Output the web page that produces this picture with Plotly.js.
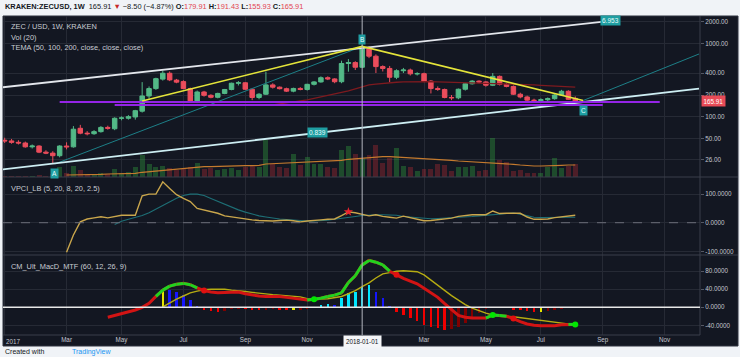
<!DOCTYPE html>
<html><head><meta charset="utf-8">
<script src="https://cdn.plot.ly/plotly-3.0.1.min.js"></script>
<style>html,body{margin:0;padding:0;background:#f0f3f7;}#chart{width:740px;height:357px;}</style>
</head><body><div id="chart"></div>
<script>
// ---------- DATA (weekly candles, KRAKEN ZEC/USD) ----------
const firstWeek = '2017-01-02';
const openP = [48,47,45,44,39,40,33,32,29.5,40,
 39,70,60,59,63,72,69,96,96,100,
 120,194,245,330,397,320,305,245,166,220,
 198,186,210,238,290,294,240,185,205,275,
 256,244,226,246,238,280,302,345,332,304,
 540,556,480,860,680,490,462,350,430,440,
 390,392,310,245,238,185,183,240,285,310,
 302,272,360,280,262,205,188,170,168,172,
 178,200,225,179.91];
const highP = [52,50,48,46,42,41,35,34,41,45,
 75,78,64,66,75,76,99,102,106,125,
 300,262,345,430,420,332,318,252,230,228,
 205,215,242,295,310,300,245,212,417,290,
 262,252,252,256,285,310,360,360,340,590,
 620,580,965,930,720,510,500,450,470,460,
 410,405,320,262,245,200,245,290,320,318,
 310,400,370,290,270,215,196,178,180,185,
 205,235,232,191.43];
const lowP = [44,43,42,38,37,32,31,23,28,36,
 38,58,56,57,61,67,66,90,92,92,
 115,178,235,315,310,290,240,160,155,190,
 180,180,205,232,270,235,170,175,200,245,
 238,220,218,232,230,270,295,320,290,290,
 417,440,470,640,400,420,300,330,400,370,
 370,300,210,228,180,170,175,230,278,290,
 260,265,270,255,200,180,160,158,160,165,
 172,195,172,155.93];
const closeP = [47,45,44,39,40,33,32,29.5,40,39,
 68,60,59,63,72,70,96,97,101,122,
 194,245,335,397,322,300,245,166,220,198,
 186,210,238,290,294,240,185,205,275,256,
 244,226,246,238,280,302,345,332,304,540,
 556,480,860,680,490,462,350,430,440,390,
 392,310,245,238,185,183,240,285,310,302,
 272,360,280,262,205,188,170,168,172,178,
 200,225,174.41,165.91];
const volume = [3,3,3,4,3,5,4,8,30,12,
 32,20,10,8,12,10,25,12,15,30,
 65,38,30,32,28,22,25,30,42,25,
 28,20,25,28,22,30,35,30,110,40,
 30,28,68,35,60,40,40,30,28,80,
 92,70,55,66,96,41,56,86,33,29,
 18,23,23,39,36,18,29,29,33,19,
 21,116,51,46,19,21,13,13,13,31,
 56,26,33,39];
const volumeMAStart = 9;
const volumeMA = [6,6,7,7,8,8,9,9,10,10,11,
 14,16,18,20,22,24,26,28,30,31,
 31,32,32,33,33,34,34,35,39,40,
 40,41,42,43,44,45,46,46,48,50,
 53,55,56,57,59,61,61,60,58,56,
 55,54,53,52,51,50,48,47,46,45,
 43,42,41,40,38,36,34,33,33,33,
 34,35,36,36];
const temaStart = 39;
const tema50 = [146,150,155,160,166,172,180,188,197,206,216,
 228,242,258,275,282,289,294,299,303,305,
 305,305,304,302,300,299,298,297,296,295,
 293,291,289,287,284,281,278,275,271,268,
 265,262,259,256];
const vpciStart = 9;
const vpci = [-103,-43,3,13,17,21,17,21,26,26,26,
 94,100,100,143,120,98,85,74,50,45,
 40,33,24,20,16,12,10,8,7,6,
 8,9,7,3,6,9,10,12,13,25,
 38,35,30,24,28,22,19,16,23,18,
 12,7,8,10,12,16,22,26,28,28,
 28,41,32,33,34,33,20,12,12,13,
 18,21,23,26];
const vpciSignalStart = 16;
const vpciSignal = [-6,5,12,18,
 25,35,48,60,75,86,95,100,100,95,
 85,75,63,55,45,37,30,24,20,16,
 13,11,9,7,6,6,7,9,12,16,
 19,22,25,27,28,28,28,26,22,20,
 17,15,14,15,16,18,19,20,22,24,
 26,29,31,33,34,30,24,19,18,18,
 19,19,19,19];
const vpciMarkWeeks = [50];
const macdStart = 15;
const macd = [-22,-18,-13,-9,-6,
 0,9,24,38,47,51,53,50,43,37,
 34,32,33,34,34,30,27,25,24,24,
 24,22,20,18,16,18,20,24,27,32,
 55,70,94,104,100,94,80,72,64,58,
 52,42,32,22,8,-6,-18,-22,-24,-24,
 -24,-17,-18,-20,-25,-32,-37,-40,-41,-41,
 -41,-39,-38,-38];
const macdSignalStart = 23;
const macdSignal = [1,10,18,25,32,36,39,
 40,40,40,38,37,35,33,31,30,28,
 27,26,25,23,19,18,18,19,21,24,
 30,37,46,54,65,74,77,80,81,80,
 79,72,60,48,36,26,16,6,-2,-8,
 -13,-17,-19,-20,-21,-23,-25,-27,-29,-31,
 -33,-35,-37,-39];
const macdHistStart = 23;
const macdHist = [40,38,35,28,16,2,-7,
 -9,-11,-8,-4,-3,-4,-6,-7,-5,-4,
 -5,-6,-6,-5,-3,0,6,8,5,20,
 31,33,45,50,35,21,2,-10,-17,-24,
 -30,-39,-43,-47,-50,-49,-43,-34,-21,-12,
 -3,0,1,0,-5,-7,-9,-10,-10,-9,
 -6,-4,-1,0];

// drawing tools (dates / prices)
const upperChannelDates = ['2016-12-31','2018-09-11'];
const upperChannelPrices = [255, 2065];
const lowerChannelDates = ['2016-12-31','2018-12-10'];
const lowerChannelPrices = [19.1, 245];
const abLineDates = ['2017-02-22','2018-01-01'];
const abLinePrices = [22.7, 925];
const cRayDates = ['2018-08-14','2018-12-10'];
const cRayPrices = [168, 729];
const yellowDates = ['2017-05-22','2018-01-01','2018-08-14'];
const yellowPrices = [165.6, 925, 168];
const purpleUpperDates = ['2017-02-27','2018-10-31'];
const purpleUpperPrice = 160;
const purpleLowerDates = ['2017-04-24','2018-09-03'];
const purpleLowerPrice = 146;
const pointLabels = ['A','B','C'];
const pointDates = ['2017-02-22','2018-01-01','2018-08-14'];
const pointPrices = [22.7, 925, 168];
const fibLabels = ['0.839','6.953'];
const fibDates = ['2017-11-17','2018-09-11'];
const fibPrices = [60.8, 2065];
const crosshairDate = '2018-01-01';

// axis ticks
const yearTickLabel = '2017';
const tickDates = ['2017-01-02','2017-03-06','2017-05-01','2017-07-03','2017-09-04','2017-11-06','2018-03-05','2018-05-07','2018-07-02','2018-09-03','2018-11-05'];
const tickLabels = ['','Mar','May','Jul','Sep','Nov','Mar','May','Jul','Sep','Nov'];
const priceTicks = [26,50,100,200,400,1000,2000];
const vpciTicks = [-100,0,100];
const macdTicks = [-40,0,40,80];

// ---------- BUILD ----------
const DAY = 86400000;
const t0 = Date.parse(firstWeek + 'T00:00:00Z');
const weekDates = openP.map((_, i) => new Date(t0 + i * 7 * DAY).toISOString().slice(0, 10));
const n = weekDates.length;
const up = closeP.map((c, i) => c >= openP[i]);

const green = '#53b987', red = '#eb4d5c';
const gridColor = '#262a35';
const traces = [];

// volume (base axis y)
traces.push({type:'bar', x: weekDates, y: volume, xaxis:'x', yaxis:'y', width: 5*DAY,
  marker:{color: up.map(u => u ? 'rgba(50,169,63,0.36)' : 'rgba(176,43,51,0.38)'), line:{width:0}}, hoverinfo:'skip'});
traces.push({type:'scatter', mode:'lines', x: weekDates.slice(volumeMAStart), y: volumeMA, xaxis:'x', yaxis:'y',
  line:{color:'#c47a2e', width:1.1}, hoverinfo:'skip'});

// price overlay axis y2
traces.push({type:'scatter', mode:'lines', x: weekDates.slice(temaStart), y: tema50, xaxis:'x', yaxis:'y2',
  line:{color:'#7e1a1f', width:1.3}, hoverinfo:'skip'});
traces.push({type:'candlestick', x: weekDates, open: openP, high: highP, low: lowP, close: closeP, xaxis:'x', yaxis:'y2',
  increasing:{line:{color:green, width:1}, fillcolor:green}, decreasing:{line:{color:red, width:1}, fillcolor:red},
  whiskerwidth:0, hoverinfo:'skip'});
const line = (x, y, color, width, dash) => ({type:'scatter', mode:'lines', x, y, xaxis:'x', yaxis:'y2',
  line:{color, width, dash: dash || 'solid'}, hoverinfo:'skip'});
traces.push(line(abLineDates, abLinePrices, '#1d7f87', 1));
traces.push(line(cRayDates, cRayPrices, '#1d7f87', 1));
traces.push(line(upperChannelDates, upperChannelPrices, '#e3e6ec', 1.8));
traces.push(line(lowerChannelDates, lowerChannelPrices, '#cdeef3', 1.8));
traces.push(line(purpleUpperDates, [purpleUpperPrice, purpleUpperPrice], '#9424e6', 2));
traces.push(line(purpleLowerDates, [purpleLowerPrice, purpleLowerPrice], '#9424e6', 2));
traces.push(line(yellowDates, yellowPrices, '#e4e43a', 1.6));

// VPCI (y3)
traces.push({type:'scatter', mode:'lines', x: weekDates.slice(vpciSignalStart), y: vpciSignal, xaxis:'x', yaxis:'y3',
  line:{color:'#1e6f76', width:1.1}, hoverinfo:'skip'});
traces.push({type:'scatter', mode:'lines', x: weekDates.slice(vpciStart), y: vpci, xaxis:'x', yaxis:'y3',
  line:{color:'#c9a64c', width:1.4}, hoverinfo:'skip'});
traces.push({type:'scatter', mode:'markers', x: vpciMarkWeeks.map(w => weekDates[w]), y: vpciMarkWeeks.map(w => vpci[w - vpciStart]),
  xaxis:'x', yaxis:'y3', marker:{symbol:'star', size:7, color:'#e8232e'}, hoverinfo:'skip'});

// MACD (y4)
const histX = weekDates.slice(macdHistStart);
const histColors = macdHist.map((h, i) => {
  const p = i > 0 ? macdHist[i-1] : null;
  if (p === null) return '#e6e600';
  if (h > 0 && h > p) return '#00e5ff';
  if (h > 0 && h < p) return '#1515ff';
  if (h <= 0 && h < p) return '#f00000';
  if (h <= 0 && h > p) return '#800000';
  return '#e6e600';
});
traces.push({type:'bar', x: histX, y: macdHist, xaxis:'x', yaxis:'y4', width: 2.6*DAY,
  marker:{color: histColors, line:{width:0}}, hoverinfo:'skip'});
traces.push({type:'scatter', mode:'lines', x: weekDates.slice(macdSignalStart), y: macdSignal, xaxis:'x', yaxis:'y4',
  line:{color:'#b6ac12', width:1.4}, hoverinfo:'skip'});
const macdAt = w => (w >= macdStart && w - macdStart < macd.length) ? macd[w - macdStart] : null;
const sigAt = w => (w >= macdSignalStart && w - macdSignalStart < macdSignal.length) ? macdSignal[w - macdSignalStart] : null;
traces.push({type:'scatter', mode:'lines', x: weekDates.slice(macdStart), y: macd, xaxis:'x', yaxis:'y4',
  line:{color:'#d21414', width:3}, hoverinfo:'skip'});
const gx = [], gy = [], dotX = [], dotY = [], dotC = [];
for (let w = macdStart + 1; w < n; w++) {
  const m = macdAt(w), s = sigAt(w);
  if (m === null) continue;
  const above = s !== null && m >= s;
  if (above) { gx.push(weekDates[w-1], weekDates[w], null); gy.push(macdAt(w-1), m, null); }
  const ps = sigAt(w-1), pm = macdAt(w-1);
  if (s !== null && ps !== null && pm !== null) {
    const prevAbove = pm >= ps;
    if (prevAbove !== above) { dotX.push(weekDates[w]); dotY.push(m); dotC.push(above ? '#00e600' : '#e01010'); }
  }
}
traces.push({type:'scatter', mode:'lines', x: gx, y: gy, xaxis:'x', yaxis:'y4', connectgaps:false,
  line:{color:'#1fd41f', width:3}, hoverinfo:'skip'});
traces.push({type:'scatter', mode:'markers', x: dotX, y: dotY, xaxis:'x', yaxis:'y4',
  marker:{size:6, color: dotC}, hoverinfo:'skip'});

// ---------- LAYOUT ----------
const W = 740, H = 357, ML = 3, MR = 40, MT = 16, MB = 22;
const pw = W - ML - MR, ph = H - MT - MB;
const px = x => (x - ML) / pw;
const py = y => (H - MB - y) / ph;
const priceDom = [py(177), 1], vpciDom = [py(255), py(177)], macdDom = [0, py(255)];
const xRange = ['2016-12-31 07:00', '2018-12-11'];
const labelFont = {family:'Liberation Sans, Arial, sans-serif', size:6.3, color:'#c3c6ce'};
const titleFont = {family:'Liberation Sans, Arial, sans-serif', size:7.4, color:'#c9ccd3'};

const last = n - 1;
const chg = closeP[last] - closeP[last-1];
const pct = chg / closeP[last-1] * 100;
const fmt = v => v.toFixed(2);
const neg = s => s.replace('-', '\u2212');
const rc = '#e2434f';
const header = `<b>KRAKEN:ZECUSD, 1W</b>  ${fmt(closeP[last])} <span style="color:#c62828">\u25BC</span> ${neg(fmt(chg))} (${neg(pct.toFixed(2))}%) ` +
  `<b>O:</b><span style="color:${rc}">${fmt(openP[last])}</span> <b>H:</b><span style="color:${rc}">${fmt(highP[last])}</span> ` +
  `<b>L:</b><span style="color:${rc}">${fmt(lowP[last])}</span> <b>C:</b><span style="color:${rc}">${fmt(closeP[last])}</span>`;

const annotations = [
  {xref:'paper', yref:'paper', x: px(3), y: py(7), xanchor:'left', yanchor:'middle', showarrow:false, text: header,
   font:{family:'Liberation Sans, Arial, sans-serif', size:7.4, color:'#131722'}},
  {xref:'paper', yref:'paper', x: px(9), y: py(27), xanchor:'left', yanchor:'middle', showarrow:false, text:'ZEC / USD, 1W, KRAKEN', font:titleFont},
  {xref:'paper', yref:'paper', x: px(9), y: py(37.5), xanchor:'left', yanchor:'middle', showarrow:false, text:'Vol (20)', font:titleFont},
  {xref:'paper', yref:'paper', x: px(9), y: py(48), xanchor:'left', yanchor:'middle', showarrow:false, text:'TEMA (50, 100, 200, close, close, close)', font:titleFont},
  {xref:'paper', yref:'paper', x: px(9), y: py(188.5), xanchor:'left', yanchor:'middle', showarrow:false, text:'VPCI_LB (5, 20, 8, 20, 2.5)', font:titleFont},
  {xref:'paper', yref:'paper', x: px(9), y: py(266), xanchor:'left', yanchor:'middle', showarrow:false, text:'CM_Ult_MacD_MTF (60, 12, 26, 9)', font:titleFont},
  {xref:'paper', yref:'paper', x: px(3), y: py(351.5), xanchor:'left', yanchor:'middle', showarrow:false, text:'Created with',
   font:{family:'Liberation Sans, Arial, sans-serif', size:7, color:'#131722'}},
  {xref:'paper', yref:'paper', x: px(70), y: py(351.5), xanchor:'left', yanchor:'middle', showarrow:false, text:'TradingView',
   font:{family:'Liberation Sans, Arial, sans-serif', size:7, color:'#2196f3'}},
  {xref:'paper', yref:'paper', x: px(4), y: py(341), xanchor:'left', yanchor:'middle', showarrow:false, text: yearTickLabel, font: labelFont},
  {xref:'paper', yref:'y2', x: 1, xshift: 1, y: Math.log10(closeP[last]), xanchor:'left', yanchor:'middle', showarrow:false,
   text: fmt(closeP[last]), bgcolor:'#e84b57', borderpad:1.5, font:{family:'Liberation Sans, Arial, sans-serif', size:6.3, color:'#ffffff'}},
  {xref:'x', yref:'paper', x: crosshairDate, y: py(341), xanchor:'center', yanchor:'middle', showarrow:false,
   text: crosshairDate, bgcolor:'#f4f5f8', borderpad:2, font:{family:'Liberation Sans, Arial, sans-serif', size:6.3, color:'#131722'}}
];
const shifts = [-9, 7, -9.5];
pointLabels.forEach((t, i) => annotations.push({xref:'x', yref:'y2', x: pointDates[i], y: Math.log10(pointPrices[i]),
  yshift: shifts[i], xanchor:'center', yanchor:'middle', showarrow:false, text: t, bgcolor:'#1f9ea2', borderpad:1,
  font:{family:'Liberation Sans, Arial, sans-serif', size:6.5, color:'#e8fbfb'}}));
fibLabels.forEach((t, i) => annotations.push({xref:'x', yref:'y2', x: fibDates[i], y: Math.log10(fibPrices[i]),
  xanchor:'center', yanchor:'middle', showarrow:false, text: t, bgcolor:'#1f9ea2', borderpad:1,
  font:{family:'Liberation Sans, Arial, sans-serif', size:6.5, color:'#e8fbfb'}}));

const sepColor = '#3a3e4a';
const shapes = [
  {type:'rect', xref:'paper', yref:'paper', x0: px(3), x1: px(738), y0: py(346), y1: py(16), fillcolor:'#131722', line:{color:'#2f333e', width:1}, layer:'below'},
  {type:'line', xref:'paper', yref:'paper', x0: 1, x1: 1, y0: 0, y1: 1, line:{color:sepColor, width:1}},
  {type:'line', xref:'paper', yref:'paper', x0: px(3), x1: px(738), y0: py(177), y1: py(177), line:{color:sepColor, width:1}},
  {type:'line', xref:'paper', yref:'paper', x0: px(3), x1: px(738), y0: py(255), y1: py(255), line:{color:sepColor, width:1}},
  {type:'line', xref:'paper', yref:'paper', x0: 0, x1: 1, y0: 0, y1: 0, line:{color:sepColor, width:1}},
  {type:'line', xref:'paper', yref:'y2', x0: 0, x1: 1, y0: Math.log10(closeP[last]), y1: Math.log10(closeP[last]), line:{color:'#d8434e', width:1, dash:'dot'}},
  {type:'line', xref:'paper', yref:'y3', x0: 0, x1: 1, y0: 0, y1: 0, line:{color:'#6b6e79', width:1, dash:'dash'}},
  {type:'line', xref:'paper', yref:'y4', x0: 0, x1: 1, y0: 0, y1: 0, line:{color:'#e8e8e8', width:1.6}},
  {type:'line', xref:'x', yref:'paper', x0: crosshairDate, x1: crosshairDate, y0: 0, y1: 1, line:{color:'#b4b7bf', width:1}}
];

const yCommon = {side:'right', anchor:'x', showgrid:true, gridcolor:gridColor, gridwidth:1, zeroline:false,
  ticks:'outside', ticklen:3, tickcolor:'#555965', tickfont:labelFont, showline:false, fixedrange:true};
const layout = {
  width: W, height: H, margin:{l:ML, r:MR, t:MT, b:MB, pad:0},
  paper_bgcolor:'#f0f3f7', plot_bgcolor:'#131722', showlegend:false, bargap:0, boxgap:0.35, boxgroupgap:0,
  font: labelFont,
  xaxis:{type:'date', range: xRange, anchor:'y4', tickvals: tickDates, ticktext: tickLabels, showgrid:true,
    gridcolor:gridColor, gridwidth:1, zeroline:false, showline:false, ticks:'', tickfont:labelFont,
    rangeslider:{visible:false}, fixedrange:true},
  yaxis:{domain: priceDom, range:[0,483], showticklabels:false, showgrid:false, zeroline:false, anchor:'x', fixedrange:true},
  yaxis2: Object.assign({}, yCommon, {overlaying:'y', type:'log', range:[1.178, 3.383], tickvals: priceTicks, ticktext: priceTicks.map(v => v.toFixed(2))}),
  yaxis3: Object.assign({}, yCommon, {domain: vpciDom, range:[-113, 160], tickvals: vpciTicks, ticktext: vpciTicks.map(v => v.toFixed(4))}),
  yaxis4: Object.assign({}, yCommon, {domain: macdDom, range:[-61.5, 116], tickvals: macdTicks, ticktext: macdTicks.map(v => v.toFixed(4))}),
  annotations, shapes
};
Plotly.newPlot('chart', traces, layout, {staticPlot:true, displayModeBar:false});
</script></body></html>
